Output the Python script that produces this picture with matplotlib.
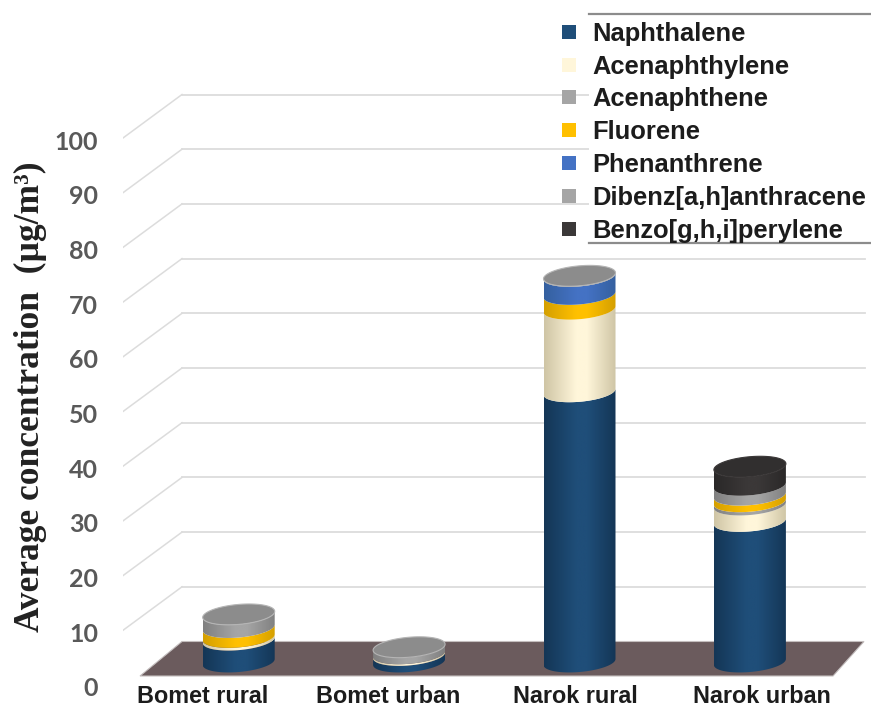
import numpy as np
import matplotlib
matplotlib.use("Agg")
import matplotlib.pyplot as plt
from matplotlib.colors import LinearSegmentedColormap
from matplotlib.lines import Line2D
from matplotlib.patches import PathPatch, Polygon, Rectangle
from matplotlib.path import Path
from matplotlib.transforms import ScaledTranslation

# ---- data ----
sites = ["Bomet rural", "Bomet urban", "Narok rural", "Narok urban"]
compounds = ["Naphthalene", "Acenaphthylene", "Acenaphthene", "Fluorene",
             "Phenanthrene", "Dibenz[a,h]anthracene", "Benzo[g,h,i]perylene"]
naphthalene = [4.0, 1.2, 49.4, 25.7]
acenaphthylene = [0.5, 0.3, 15.1, 3.0]
acenaphthene = [0.0, 0.0, 0.0, 0.6]
fluorene = [1.8, 0.0, 2.7, 1.2]
phenanthrene = [0.0, 0.0, 3.3, 0.0]
dibenz_anthracene = [2.4, 1.2, 0.1, 1.8]
benzo_perylene = [0.0, 0.0, 0.0, 3.4]
y_ticks = list(range(0, 101, 10))

series = [naphthalene, acenaphthylene, acenaphthene, fluorene,
          phenanthrene, dibenz_anthracene, benzo_perylene]
colors = ["#1f4e79", "#fff6da", "#a5a5a5", "#ffc000", "#4472c4", "#a5a5a5", "#3b3838"]
edges = ["#143656", "#cfc5a5", "#808080", "#d49f00", "#35609f", "#808080", "#2a2828"]
tops = ["#1f4e79", "#fff6da", "#8c8c8c", "#ffc000", "#4472c4", "#8c8c8c", "#312f2f"]

# ---- layout (pixels of the 871x707 canvas) ----
W, H = 871, 707
PX_X = 170.4           # px per category
PX_Y = 5.47            # px per value unit
X0_PX = 238.7          # px of first category
Y0_PX = 685            # px of value 0
AX_L = 123
BASE = (685 - 662) / PX_Y      # bars stand on the floor
WALL = 43.5 / PX_Y             # depth lift of the back wall


def xd(px):
    return (px - X0_PX) / PX_X


plt.rcParams["font.family"] = ["Liberation Sans", "DejaVu Sans"]
fig = plt.figure(figsize=(W / 100, H / 100), dpi=100)
ax = fig.add_axes([AX_L / W, (H - Y0_PX) / H, (W - AX_L) / W, Y0_PX / H])
for s in ax.spines.values():
    s.set_visible(False)

# wall grid
grid_c = "#dcdcdc"
for v in y_ticks[1:]:
    ax.plot([xd(123), xd(182)], [v, v + WALL], color=grid_c, lw=1.1, zorder=1)
    ax.plot([xd(182), xd(865)], [v + WALL, v + WALL], color=grid_c, lw=1.3, zorder=1)

# floor
ax.add_patch(Polygon([(xd(182), WALL), (xd(864), WALL),
                      (xd(833), (685 - 676) / PX_Y), (xd(140), (685 - 676) / PX_Y)],
                     closed=True, facecolor="#6b5b5d", edgecolor="#c4bebe", lw=0.8, zorder=2))

# legend backing box
ax.add_patch(Rectangle((589 / W, 1 - 243 / H), (W - 589) / W, 230 / H, transform=fig.transFigure,
                       facecolor="white", edgecolor="none", zorder=1.5, clip_on=False))
for ypx in (13.5, 243.5):
    ax.add_line(Line2D([589 / W, 1], [1 - ypx / H] * 2, transform=fig.transFigure,
                       color="#8c8c8c", lw=1.6, zorder=6, clip_on=False))

# cylinders
A = 36.0 / PX_X
B = 10.0 / PX_Y
SHEAR = 3.0 / PX_Y


def ellipse_xy(cx, vy, t):
    # the right side of each disc sits slightly higher than the left one
    return np.column_stack([cx + A * np.cos(t), vy + B * np.sin(t) + SHEAR * np.cos(t)])


t_front = np.linspace(np.pi, 2 * np.pi, 60)
t_all = np.linspace(0, 2 * np.pi, 120)
grad = np.linspace(0, 1, 128).reshape(1, -1)

for i in range(len(sites)):
    level = BASE
    top_color = None
    for k, vals in enumerate(series):
        h = vals[i]
        if h <= 0:
            continue
        lower = ellipse_xy(i, level, t_front)
        upper = ellipse_xy(i, level + h, t_front)[::-1]
        path = Path(np.vstack([lower, upper, lower[:1]]), closed=True)
        cmap = LinearSegmentedColormap.from_list(
            "c", [(0, edges[k]), (0.45, colors[k]), (0.6, colors[k]), (1, edges[k])], N=128)
        im = ax.imshow(grad, cmap=cmap, aspect="auto", zorder=3 + k * 0.01,
                       extent=(i - A, i + A, level - 2 * B, level + h + 2 * B),
                       interpolation="bilinear")
        im.set_clip_path(PathPatch(path, transform=ax.transData))
        level += h
        top_color = tops[k]
    ax.add_patch(Polygon(ellipse_xy(i, level, t_all), closed=True, facecolor=top_color,
                         edgecolor="#b5b5b5" if top_color != tops[6] else "#3b3838",
                         lw=0.8, zorder=3.5))

ax.set_xlim(xd(AX_L), xd(W))
ax.set_ylim(0, Y0_PX / PX_Y)

# axes text
ax.set_yticks(y_ticks)
ax.set_yticklabels([str(v) for v in y_ticks], family="Lato", fontweight="bold",
                   fontsize=18, color="#595959")
ax.tick_params(axis="y", length=0, pad=18)
for lab in ax.get_yticklabels():
    lab.set_transform(lab.get_transform() + ScaledTranslation(0, -2 / 100, fig.dpi_scale_trans))
ax.set_xticks(range(len(sites)))
ax.set_xticklabels(sites, fontweight="bold", fontsize=16.8, color="#1c1c1c")
ax.tick_params(axis="x", length=0, pad=12.9)
for lab, dx in zip(ax.get_xticklabels(), (-36, -21, -4.5, 12)):
    lab.set_verticalalignment("baseline")
    lab.set_transform(lab.get_transform() + ScaledTranslation(dx / 100, 0, fig.dpi_scale_trans))

fig.text(30 / W, 1 - 397 / H, "Average concentration  (\u00b5g/m\u00b3)", rotation=90,
         family="Liberation Serif", fontweight="bold", fontsize=25.5, color="#222222",
         ha="center", va="center")

handles = [Line2D([], [], linestyle="none", marker="s", markersize=9.5, markeredgewidth=0,
                  color=c) for c in colors]
leg = ax.legend(handles, compounds, loc="upper left", frameon=False,
                bbox_to_anchor=(548.5 / W, 1 - 14 / H), bbox_transform=fig.transFigure,
                labelspacing=0.347, handlelength=1.0, handletextpad=0.42, borderpad=0.3,
                borderaxespad=0, prop={"weight": "bold", "size": 18.4})
leg.set_zorder(7)
for txt in leg.get_texts():
    txt.set_color("#1c1c1c")

fig.savefig("out.png", dpi=100, facecolor="white")
